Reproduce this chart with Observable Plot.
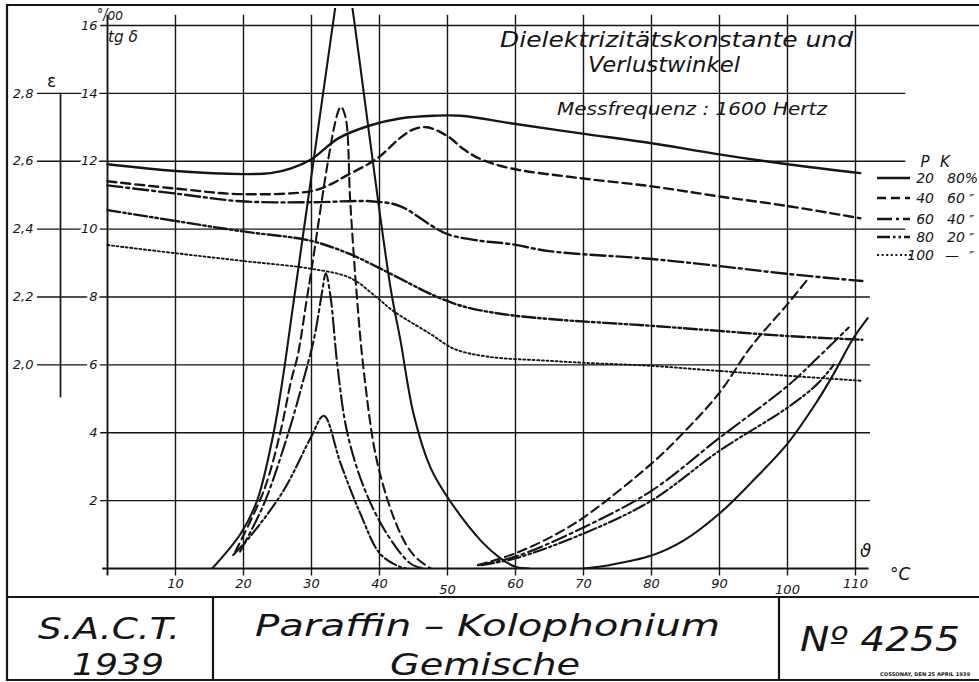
<!DOCTYPE html>
<html><head><meta charset="utf-8">
<script src="https://cdn.jsdelivr.net/npm/d3@7"></script>
<script src="https://cdn.jsdelivr.net/npm/@observablehq/plot@0.6"></script>
<style>
body{margin:0;background:#fff;}
#wrap{position:relative;width:979px;height:682px;overflow:hidden;background:#fff;}
#chart{position:absolute;left:0;top:0;}
#overlay{position:absolute;left:0;top:0;}
</style></head><body>
<div id="wrap"><div id="chart"></div><svg id="overlay" width="979" height="682"></svg></div>
<script>
// ---------- data (temperature °C, value) ----------
const xTicks = [10,20,30,40,50,60,70,80,90,100,110];
const xTickLabels = ["10","20","30","40","50","60","70","80","90","100","110"];
const xTicksLowered = [50,100];
const tgTicks = [2,4,6,8,10,12,14,16];
const epsTicks = [2.0,2.2,2.4,2.6,2.8];
const epsTickLabels = ["2,0","2,2","2,4","2,6","2,8"];

const mixP = [20,40,60,80,100];          // Paraffin %
const mixK = ["80%","60","40","20","—"]; // Kolophonium %

// Dielektrizitätskonstante ε
const eps20 = [[0,2.591],[10,2.571],[20,2.562],[24,2.565],[27,2.579],[30,2.606],[34,2.668],[38.7,2.706],[43,2.726],[48,2.734],[52,2.734],[59.3,2.712],[69.6,2.682],[80,2.653],[89.7,2.621],[100,2.591],[110.7,2.565]];
const eps40 = [[0,2.541],[10.7,2.518],[19.6,2.503],[30,2.512],[32.8,2.532],[35,2.556],[39.7,2.609],[43,2.668],[45,2.694],[47,2.700],[50,2.674],[52.4,2.635],[54.9,2.606],[59.3,2.579],[69.6,2.550],[80,2.526],[89.7,2.497],[100,2.468],[110.7,2.432]];
const eps60 = [[0,2.529],[10.7,2.503],[19.6,2.482],[30,2.479],[38.7,2.482],[43,2.468],[47.5,2.412],[50,2.385],[55,2.365],[59.3,2.356],[65,2.335],[80,2.312],[90,2.291],[100,2.268],[111,2.247]];
const eps80 = [[0,2.456],[10,2.424],[19.6,2.394],[30,2.365],[35.7,2.326],[40,2.285],[44.6,2.238],[47.5,2.209],[52,2.174],[58,2.150],[65,2.135],[80,2.115],[90,2.100],[100,2.085],[111,2.074]];
const eps100 = [[0,2.353],[10,2.329],[20,2.306],[30,2.283],[35.7,2.256],[39.7,2.197],[42,2.159],[47.5,2.091],[51,2.047],[56,2.024],[65,2.012],[70,2.006],[80,1.997],[90,1.982],[100,1.968],[111,1.953]];

// Verlustwinkel tg δ (‰)
const tg20Peak = [[15.4,0],[19.6,1.03],[22,2.0],[24.4,3.97],[25.7,5.5],[27.4,7.9],[33.4,16.4],[34.75,18.3],[36.1,16.4],[41.6,8.3],[43.1,6.7],[45,4.56],[47.5,2.97],[50,2.1],[55,0.8],[57.8,0.3],[60,0.05],[62,0]];
const tg20Rise = [[70,0],[73.5,0.09],[80,0.38],[84.7,0.82],[90,1.62],[94.5,2.5],[100,3.68],[104.4,4.94],[106.8,5.74],[109.7,6.79],[111.8,7.38]];
const tg40Peak = [[18.8,0.5],[23,2.3],[25.4,4.0],[27,5.53],[28,6.3],[29.6,8.3],[34.3,13.6],[35,13.3],[35.7,10.8],[36.6,8.2],[37.7,5.8],[39.7,3.1],[42.8,1.15],[45,0.4],[47.5,0]];
const tg40Rise = [[54.5,0.1],[60,0.45],[65.6,0.97],[70,1.5],[80,3.09],[84.7,4.0],[90,5.18],[94.5,6.5],[100,7.79],[103,8.53]];
const tg60Peak = [[19.5,0.5],[23,1.9],[26.6,4.0],[28.6,5.4],[30.4,6.8],[31.6,8.2],[32.1,8.7],[32.8,8.0],[33.8,6.0],[35.2,4.06],[37.7,2.39],[41.1,1.02],[44.6,0.14],[46.5,0]];
const tg60Rise = [[54.5,0.1],[60,0.35],[70,1.21],[80,2.29],[90,3.85],[100,5.38],[104.4,6.2],[109,7.1]];
const tg80Peak = [[18.5,0.4],[21,0.95],[25.9,2.3],[29.9,3.86],[31.8,4.5],[34.3,3.08],[37.2,1.61],[40.1,0.43],[43.1,0.04],[44,0]];
const tg80Rise = [[55,0.1],[60,0.3],[70,1.03],[80,2.0],[90,3.47],[100,4.74],[104.4,5.44],[106.8,6.0]];

// ---------- mapping / styles ----------
const epsToTg = e => 6 + (e - 2) * 10;   // ε-axis 2,0..2,8 ↔ tg δ 6..14
const epsSeries = {20:eps20, 40:eps40, 60:eps60, 80:eps80, 100:eps100};
const tgPeaks = {20:tg20Peak, 40:tg40Peak, 60:tg60Peak, 80:tg80Peak};
const tgRises = {20:tg20Rise, 40:tg40Rise, 60:tg60Rise, 80:tg80Rise};
const dashOf = {20:undefined, 40:"9,5", 60:"15,4,3,4", 80:"13,3,2.5,3,2.5,3", 100:"2,2.6"};
const FONT = "'DejaVu Sans', 'Liberation Sans', sans-serif";
const INK = "#151515";

const marks = [];
// horizontal grid
marks.push(Plot.ruleY(tgTicks, {
  y: d => d,
  x1: d => (d >= 6 && d <= 14) ? -10.3 : -1,
  x2: d => d === 16 ? 130 : (d >= 10 ? 117.4 : 112.2),
  stroke: INK, strokeWidth: 1.4
}));
marks.push(Plot.ruleY([0], {x1: -0.7, x2: 112, stroke: INK, strokeWidth: 2.2}));
// vertical grid
marks.push(Plot.ruleX(xTicks, {x: d => d, y1: -0.22, y2: 16.3, stroke: INK, strokeWidth: 1.4}));
marks.push(Plot.ruleX([0], {x: d => d, y1: -0.22, y2: 16.3, stroke: INK, strokeWidth: 1.9}));
// ε axis
marks.push(Plot.ruleX([0], {dx: -47, y1: 5.03, y2: 14, stroke: INK, strokeWidth: 1.7}));

// curves
for (const p of mixP) {
  const dash = dashOf[p];
  const sw = p === 100 ? 1.9 : 2.4;
  marks.push(Plot.line(epsSeries[p].map(([t, e]) => [t, epsToTg(e)]), {
    curve: "catmull-rom", stroke: INK, strokeWidth: sw, strokeDasharray: dash
  }));
  if (tgPeaks[p]) {
    marks.push(Plot.line(tgPeaks[p], {curve: "catmull-rom", stroke: INK, strokeWidth: 2.1, strokeDasharray: dash, clip: true}));
    marks.push(Plot.line(tgRises[p], {curve: "catmull-rom", stroke: INK, strokeWidth: 2.1, strokeDasharray: dash}));
  }
}

// tick labels
const common = {fontFamily: FONT, fontStyle: "italic", fill: INK};
marks.push(Plot.text(tgTicks, {x: 0, y: d => d, dx: -10, text: d => String(d), textAnchor: "end", fontSize: 13, stroke: "white", strokeWidth: 6, ...common}));
marks.push(Plot.text(epsTicks, {x: 0, y: d => epsToTg(d), dx: -74, text: (d, i) => epsTickLabels[i], textAnchor: "end", fontSize: 13, ...common}));
marks.push(Plot.text(xTicks.filter(d => !xTicksLowered.includes(d)), {x: d => d, y: 0, dy: 15, text: d => xTickLabels[xTicks.indexOf(d)], fontSize: 13, ...common}));
marks.push(Plot.text(xTicksLowered, {x: d => d, y: 0, dy: 21, text: d => xTickLabels[xTicks.indexOf(d)], fontSize: 13, ...common}));

const chart = Plot.plot({
  width: 979, height: 597,
  marginTop: 8, marginBottom: 29, marginLeft: 107, marginRight: 124,
  x: {domain: [0, 110], axis: null},
  y: {domain: [0, 16.5], axis: null},
  marks
});
document.getElementById("chart").appendChild(chart);

// ---------- overlay: frame, titles, legend ----------
const ov = d3.select("#overlay");
function txt(s, x, y, size, o = {}) {
  const t = ov.append("text").attr("x", x).attr("y", y)
    .attr("font-size", size).attr("font-family", FONT)
    .attr("font-style", o.upright ? "normal" : "italic")
    .attr("font-weight", o.bold ? "bold" : "normal")
    .attr("fill", INK).text(s);
  if (o.len) t.attr("textLength", o.len).attr("lengthAdjust", "spacingAndGlyphs");
  if (o.anchor) t.attr("text-anchor", o.anchor);
  return t;
}
const frame = ov.append("g").attr("stroke", INK).attr("fill", "none");
frame.append("path").attr("stroke-width", 2.2)
  .attr("d", "M985,5 H7 V680 H985 M7,597 H985 M213,597 V680 M779,597 V680");

txt("Dielektrizitätskonstante  und", 500, 47, 21, {len: 353});
txt("Verlustwinkel", 588, 72, 21, {len: 152});
txt("Messfrequenz : 1600 Hertz", 557, 115, 18, {len: 270});
txt("°/oo", 97, 20, 15, {len: 26});
txt("tg δ", 108, 42, 15, {len: 30});
txt("ε", 47, 87, 17, {upright: true});
txt("ϑ", 860, 557, 18);
txt("°C", 890, 580, 17);

// legend
txt("P", 925, 167, 15, {anchor: "middle"});
txt("K", 945, 167, 15, {anchor: "middle"});
const rowY = [178, 198, 219, 237, 255];
mixP.forEach((p, i) => {
  const y = rowY[i];
  ov.append("line").attr("x1", 877).attr("x2", i === 4 ? 912 : 910).attr("y1", y).attr("y2", y)
    .attr("stroke", INK).attr("stroke-width", i === 4 ? 1.9 : 2.4)
    .attr("stroke-dasharray", dashOf[p] || null);
  txt(String(p), 934, y + 5, 14, {anchor: "end"});
  txt(mixK[i], i === 4 ? 945 : 947, y + 5, 14);
  if (i > 0) txt("″", 969, y + 6, 14);
});

// title block
txt("S.A.C.T.", 38, 639, 31, {len: 142});
txt("1939", 72, 675, 31, {len: 92});
txt("Paraffin – Kolophonium", 255, 636, 31, {len: 465});
txt("Gemische", 390, 675, 31, {len: 190});
txt("Nº 4255", 800, 651, 34, {len: 160});
txt("COSSONAY, DEN 25 APRIL 1939", 880, 676, 5, {len: 90, bold: true, upright: true});
</script>
</body></html>
